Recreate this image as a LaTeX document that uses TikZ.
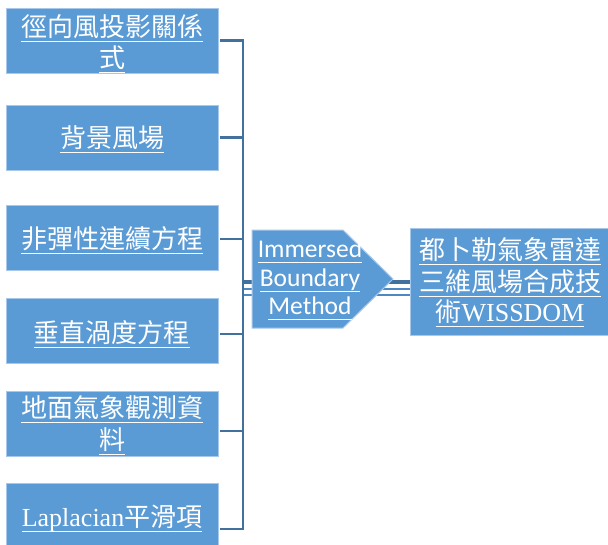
\documentclass[tikz,border=0pt]{standalone}
\usepackage{fontspec}
\setmainfont{Liberation Serif}
\newfontfamily\cjk{Noto Sans CJK TC}
\newfontfamily\carl{Carlito}
\newfontfamily\lser{Liberation Serif}
\definecolor{boxblue}{HTML}{5B9BD5}
\definecolor{linblue}{HTML}{41719C}
\definecolor{edgeblue}{HTML}{A7C8EA}
\definecolor{midblue}{HTML}{4E88C4}
\newcommand\ulx[1]{\setbox0\hbox{#1}\dp0=0pt\vtop{\box0\kern4.5pt\hrule height1.3pt}}
\begin{document}
\begin{tikzpicture}[x=1pt,y=-1pt,
  box/.style={fill=boxblue, draw=edgeblue, line width=0.8pt, minimum width=212pt, minimum height=65pt, inner sep=0pt},
  txt/.style={text=white, inner sep=0pt, anchor=base, font=\cjk\fontsize{26}{30}\selectfont},
  mtxt/.style={text=white, inner sep=0pt, anchor=base, font=\carl\fontsize{25.5}{30}\selectfont},
  br/.style={draw=linblue, line width=2.6pt},
  tdark/.style={draw=linblue, line width=3.6pt},
  tlight/.style={draw=midblue, line width=2pt}]
\useasboundingbox[fill=white] (0,0) rectangle (608,544);

% right box (drawn early so lines end at it)
\node[box, minimum width=200pt, minimum height=107pt] (rb) at (510,281.5) {};

% triple connector from spine to right box (behind the pentagon)
\coordinate (sp) at (243,0);
\coordinate (j1) at (243,282);
\coordinate (j2) at (243,289);
\coordinate (j3) at (243,295);
\draw[tdark] (j1) -- (j1 -| rb.west);
\draw[tlight] (j2) -- (j2 -| rb.west);
\draw[tlight] (j3) -- (j3 -| rb.west);

% pentagon
\draw[fill=boxblue, draw=edgeblue, line width=1pt] (252,230) -- (343,230) -- (393,279) -- (343,328) -- (252,328) -- cycle;
\node[mtxt] (m1) at (310,257) {\ulx{Immersed}};
\node[mtxt] (m2) at (310,286) {\ulx{Boundary}};
\node[mtxt] (m3) at (310,314) {\ulx{Method}};

% left boxes
\node[box] (b1) at (112,40.5) {};
\node[box] (b2) at (112,137.5) {};
\node[box] (b3) at (112,238) {};
\node[box] (b4) at (112,330.5) {};
\node[box] (b5) at (112,423.5) {};
\node[box] (b6) at (112,515.5) {};

\node[txt] (t1a) at (112,36) {\ulx{徑向風投影關係}};
\node[txt] (t1b) at (112,67) {\ulx{式}};
\node[txt] (t2) at (112,147) {\ulx{背景風場}};
\node[txt] (t3) at (112,248) {\ulx{非彈性連續方程}};
\node[txt] (t4) at (112,342) {\ulx{垂直渦度方程}};
\node[txt] (t5a) at (112,417) {\ulx{地面氣象觀測資}};
\node[txt] (t5b) at (112,449) {\ulx{料}};
\node[txt] (t6) at (112,526) {\ulx{{\lser Laplacian}平滑項}};

% right box text
\node[txt] (r1) at (510,259) {\ulx{都卜勒氣象雷達}};
\node[txt] (r2) at (510,291) {\ulx{三維風場合成技}};
\node[txt] (r3) at (510,321) {\ulx{術{\lser WISSDOM}}};

% bracket
\coordinate (s1) at ([xshift=2pt]b1.east);
\coordinate (s2) at ([xshift=2pt]b2.east);
\coordinate (s3) at ([xshift=2pt,yshift=-1pt]b3.east);
\coordinate (s4) at ([xshift=2pt,yshift=-3.5pt]b4.east);
\coordinate (s5) at ([xshift=2pt,yshift=-7.5pt]b5.east);
\coordinate (s6) at ([xshift=2pt,yshift=-13.5pt]b6.east);
\draw[br] (s1) -- (sp |- s1) -- (sp |- s6) -- (s6);
\foreach \i in {2,...,5} \draw[br] (s\i) -- (sp |- s\i);
\end{tikzpicture}
\end{document}
